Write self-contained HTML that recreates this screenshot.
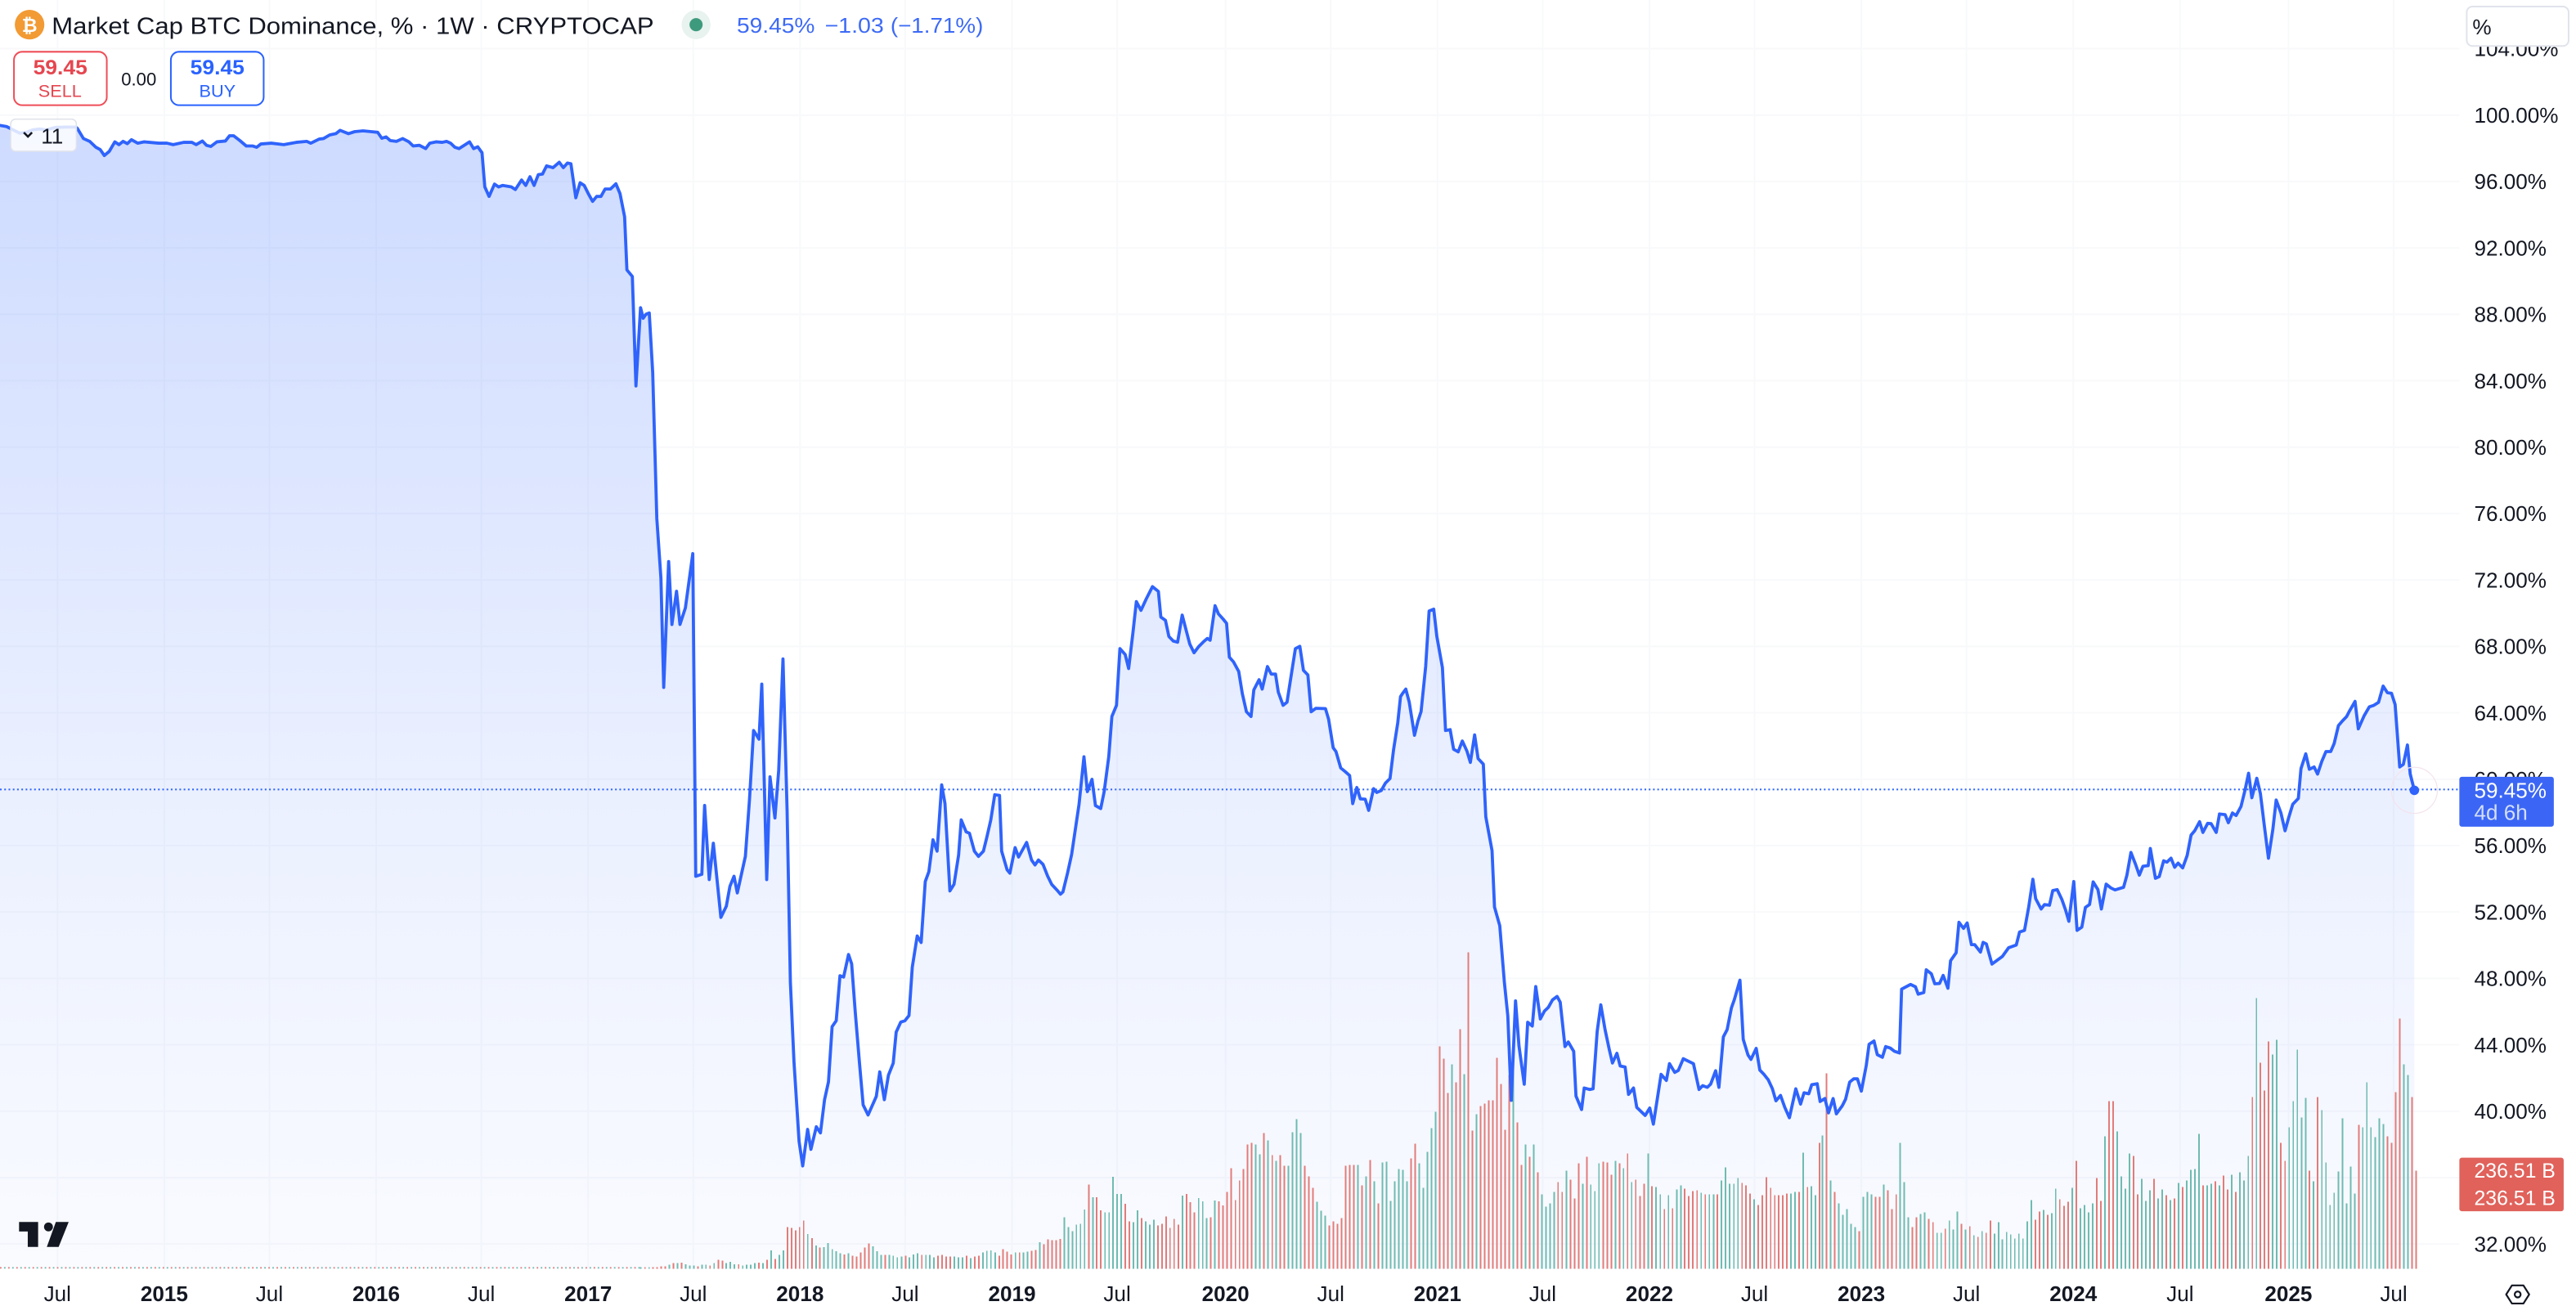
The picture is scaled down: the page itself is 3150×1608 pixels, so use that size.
<!DOCTYPE html>
<html><head><meta charset="utf-8"><style>
html,body{margin:0;padding:0;background:#fff;}
svg{display:block;}
text{font-family:"Liberation Sans",sans-serif;}
</style></head><body>
<svg width="3150" height="1608" viewBox="0 0 1568 800" preserveAspectRatio="none" xmlns="http://www.w3.org/2000/svg">
<defs>
<linearGradient id="fg" gradientUnits="userSpaceOnUse" x1="0" y1="76" x2="0" y2="772">
<stop offset="0" stop-color="#2962ff" stop-opacity="0.23"/>
<stop offset="0.55" stop-color="#2962ff" stop-opacity="0.10"/>
<stop offset="1" stop-color="#2962ff" stop-opacity="0.025"/>
</linearGradient>
</defs>
<rect x="0" y="0" width="1568" height="800" fill="#fff"/>
<g stroke="#f8f9fb" stroke-width="1">
<path d="M0 29.6H1497M0 70H1497M0 110.4H1497M0 150.8H1497M0 191.2H1497M0 231.6H1497M0 272H1497M0 312.4H1497M0 352.8H1497M0 393.2H1497M0 433.6H1497M0 474H1497M0 514.4H1497M0 554.8H1497M0 595.2H1497M0 635.6H1497M0 676H1497M0 716.4H1497M0 756.8H1497"/>
<path d="M35 0V772M100 0V772M164 0V772M229 0V772M293 0V772M358 0V772M422 0V772M487 0V772M551 0V772M616 0V772M680 0V772M746 0V772M810 0V772M875 0V772M939 0V772M1004 0V772M1068 0V772M1133 0V772M1197 0V772M1262 0V772M1327 0V772M1393 0V772M1457 0V772"/>
</g>
<path fill="url(#fg)" d="M0 76.3 L4 77 8 79 12 81 16 80.5 20 79 24 78.5 28 79 34 77.5 40 77.3 46 77.3 47 78 50.8 84.3 54.6 86 58.4 89.6 61 91 63.5 94.6 66.5 92.1 69.9 86.3 72.4 88 74.9 86 77.5 87.4 80 85 83.8 87.1 87.6 86.3 96.5 87.1 101.6 87.1 105.4 88 111.8 86.6 116.8 86.6 119.4 88 123.2 85.8 125.7 88.4 128.3 89.1 132 86.3 137.2 85.8 139.7 82.6 142.2 82.6 146 85.5 149.9 88.8 153.7 88.8 156.2 89.6 158.8 87.6 165.1 87.1 172.7 88 180.3 86.6 186.7 86 189.2 87.1 194.3 84.6 196.9 84.3 200.7 82.1 204.5 81.3 207 79.3 212.1 81.3 215.9 80.1 221 79.6 226 80.1 229.9 80.5 232.4 84.1 235 83.3 237.5 85.5 241.3 86 245.1 84.3 248.9 86.3 251.5 88.8 255.3 88.4 259.1 90.4 261.6 87.1 265.4 86.3 269.2 86.6 271.8 86 274.3 87.1 276.9 89.6 279.4 90.4 283.2 88 285.8 86.3 288.3 90.4 290.8 89.3 293.4 92.9 295.1 113.7 297.7 119.5 301 112 303.5 113.7 306 112.8 311.2 113.7 313.7 115.3 317.5 109.5 320 112.8 322.6 107.5 325.1 112.8 327.7 106.2 330.2 105.9 332.7 100.9 336.6 102 340.4 98.7 342.9 102 345.4 99.2 347.5 99.6 350.5 120.3 353.1 111.2 355.6 112.8 358.1 117.8 360.7 122.5 363.2 119.5 365.8 119.5 368.3 115 371.6 115 374.9 111.8 377.4 117.8 380.2 131.9 381.6 164.2 384.9 168.2 387.1 234.8 389.9 187.2 391.5 193.6 393.2 191.2 395.2 190.4 397.3 226.7 399.8 315.4 402.3 351.7 404 418.2 407 341.6 409 379.9 411.8 359.7 413.9 379.9 417.2 369.8 421.7 336.8 423.5 533.1 427.2 531.9 428.9 490 431.7 535.1 434.2 513 438.8 558.1 442.1 551.3 444.3 539.2 446.8 533.1 448.8 543.2 453.7 521 456.2 486.7 458.7 444.4 462 449.7 463.7 416.2 466.7 535.1 468.7 472.6 471.7 497.6 474 468.6 476.6 400.9 479.1 492.8 481.1 597.6 483.3 646 486.4 694.4 488.6 709.3 491.6 687.1 493.6 699.2 496.9 685.5 499.4 689.2 501.9 669 504.3 658.1 506.5 624.6 509 621 511.3 593.6 513.5 594.4 516.5 580.7 518.4 586.4 520.6 615.8 523.1 646 525.4 672.2 528.4 678.3 533.4 667 535.5 652.1 538.3 669 540.8 654.1 543.7 646.8 545.5 627.9 548.3 621.8 550.8 621 553.3 617.8 555.3 588.4 558.3 569.4 560.7 573.4 563.2 536.3 565.4 530.3 567.9 510.9 570.4 517.8 573.2 477.5 575.2 488.8 578.2 542 580.7 538 583.5 520.2 585.1 498.8 588.1 506.1 590.1 506.9 593.1 517.8 595.6 521 598.6 517.8 600.6 509.7 603.1 498.8 605.5 483.5 608.4 483.9 609.7 517.8 613 529.1 614.7 531.2 617.9 515.7 620 521.4 624.9 512.5 627.9 523.2 630 526.2 632.1 523.2 634.9 525.9 637.7 533 640.2 538.1 643.4 541.5 645.5 544 647 542.6 649.8 531.2 652.3 519.8 656.8 489.4 659.8 460.4 661.9 481.6 664.7 474.1 666.8 490.1 670 491.9 672.1 481.6 674.9 460.4 676.8 435.9 679.6 429.1 681.7 394.6 684.9 398.2 687 406.7 689.6 385 691.7 366 694.5 371.3 697.7 364.4 701.5 356.9 705.1 359.8 706.6 375.4 709.4 377.4 711.5 387.2 714.2 390 716.8 390.7 719.6 374.2 722.1 383.8 724.2 391.8 726.8 397.1 729.6 393.4 732.8 390.2 734.9 388.4 736.6 389.5 739.6 368.5 741.7 373.5 744.4 376.5 746.6 379.2 748.3 399.8 750.8 402.6 754 408.5 756.2 422 758.7 433 761.5 435.9 763.2 419.7 766.4 413.5 768.3 419.2 771.5 405.5 773.8 410.1 776.4 410.1 778.1 421.1 781 429.1 783.4 427.2 786.6 406.7 788.5 394.6 791.2 393.2 793.4 407.8 796.1 410.6 798.1 433 801 430.9 806.8 431.1 808.7 437.5 811.5 454.9 813.2 457.2 816.1 467.2 818.9 469.5 821.5 471.8 823.4 488.9 825.9 479.1 828 486 831 486.2 833.1 493 836.1 479.8 838 482.1 840.8 480.9 843.3 476.4 846.1 473.6 848.3 455.8 850.8 439.8 852.5 423.8 854 421.5 855.7 419.2 857.8 427.2 861 447.3 863.1 438.7 865 432.9 867.8 405.5 869.9 371.7 872.7 370.6 874.6 387.2 878 406.2 879.9 444.4 882.7 443.9 884.8 455.8 887.6 457.4 890.1 450.8 892.9 456.9 895 463.8 897.6 447.1 899.7 461.5 902.9 464.9 904.4 496.9 908.2 517.5 909.7 551.8 912.9 563.2 915.7 597.5 917.8 618 919.9 669.4 922.5 608.9 924.6 636.3 927.8 659.6 929.9 621.9 932.7 624.2 934.8 600.2 937.6 619.9 940.1 615.1 942.5 612.8 945 608.3 947.8 606.2 949.7 609.7 952.6 636.7 954.6 633.9 957.9 639.6 959.3 666.8 962.7 675 964.3 661.9 967.7 662.8 969.7 662.4 972.2 627.4 974.4 611.3 977 626.4 979.5 638.2 981.5 646.7 984.2 640.8 986.2 648.5 989.2 649.1 991.3 665.8 994.3 661.9 996.3 673.7 1001.4 678.6 1004.2 674.1 1006.4 683.9 1008.9 667.8 1011.1 653.6 1014.3 657.3 1016.2 647.1 1019.4 652.4 1021.6 651.2 1024.6 644.1 1030.8 647.1 1034.2 662.8 1036.4 660.5 1039.2 661.5 1041.3 659.5 1044.3 651.4 1046.3 661.5 1049 630.8 1051.3 626.4 1053.9 613.2 1055.7 608.1 1059.1 596.3 1061.1 632.3 1064 641.8 1065.8 644.5 1069 637.8 1071.2 651 1073.7 653.6 1076.3 656.9 1078.8 662.2 1081 669.7 1083.8 666.4 1086.4 673.7 1089.2 680 1093.1 662.4 1096 671.7 1098.1 664.8 1101 665.4 1102.8 659.9 1106.1 659.3 1107.9 670.1 1110.8 668.3 1113 677 1115.8 668.3 1117.8 677.6 1121.4 672.7 1123.4 668.7 1125.9 658.3 1128.4 656.3 1130.6 656.3 1133 663.8 1136 648.1 1137.7 635.3 1140.7 633.3 1142.7 641.6 1145.8 643.2 1147.8 636.7 1150.6 637.6 1153.2 639.6 1156.2 640.6 1157.5 601.8 1162.9 598.9 1165.9 600.3 1167.6 604.8 1171 603.8 1172.5 590 1175.6 592.4 1177.7 598.5 1180.6 598.3 1182.8 593.4 1185.7 601.2 1187.3 584.5 1190.7 579.6 1192.4 561.1 1195.2 564.8 1197.4 561.5 1200 574.7 1202 574.7 1205.5 579.2 1207.1 573.3 1209.1 574.3 1212.5 586.5 1218.9 581.8 1222.6 576.6 1227.3 574.9 1229.3 567 1232.3 566 1234.9 551.6 1237.4 534.9 1239.1 546.7 1242.4 553 1244.5 550.3 1247.5 550.7 1249.5 541.8 1252.2 541.2 1255.1 547.3 1257.3 553.6 1259.3 560.5 1262.3 536.3 1264.3 566 1267.2 564 1269.4 552 1271.9 550.3 1274.1 536.5 1277 541.2 1279.1 553 1282 537.9 1284.9 540.2 1287.4 541.4 1292.6 539.8 1294.6 532.6 1297.1 518.6 1300 526.1 1302.2 532.4 1304.4 527 1307.6 526.6 1308.9 516.2 1312 534.3 1314.3 533.3 1317 523.7 1319 524.5 1321.5 522.1 1323.7 527.6 1325.8 525.1 1328.6 528 1331.3 520.5 1333.7 508 1335.9 505.4 1338.9 499.9 1340.9 506.4 1343.8 500.9 1345.9 501.1 1349 506.4 1351 495.2 1354.4 495.6 1356.4 500.5 1358.9 494.6 1361.1 496.1 1364.1 490.6 1366.5 480.8 1368.7 470.4 1370.7 485.3 1373.7 473.5 1375.9 482.8 1378.3 502.4 1380.8 522.1 1383.5 504.4 1385.5 486.7 1388.4 494.6 1390.9 505.4 1393.1 497.5 1395.6 489.3 1399 485.7 1400.6 467.6 1403.5 458.6 1405.7 468 1408.6 466.6 1410.7 470.9 1413.3 463.1 1415.8 457.2 1418.7 457.2 1420.8 452.3 1423.4 441.4 1425.9 438.5 1428.4 435.9 1430.1 432.6 1433.5 426.7 1435.5 443.4 1439 435.5 1442.2 430 1444.7 429.2 1447.8 427.3 1450.6 417.4 1453.2 421.4 1455.7 421.8 1457.9 428.6 1460.7 466.6 1462.9 465 1465.4 453.2 1467.1 470.9 1469.6 480.8 L1469.6 772 L0 772 Z"/>
<!-- zero-volume baseline dots -->
<line x1="0" y1="771.3" x2="390" y2="771.3" stroke="#e27c7a" stroke-width="0.9" stroke-dasharray="0.9 4.05"/>
<line x1="2.47" y1="771.3" x2="390" y2="771.3" stroke="#6fbbb1" stroke-width="0.9" stroke-dasharray="0.9 4.05"/>
<!-- volume bars -->
<g stroke-width="0.95" fill="none" shape-rendering="crispEdges">
<path stroke="#e27c7a" d="M392.6 772V771M397.5 772V771M400 772V771M402.5 772V770.5M405 772V770.5M409.9 772V768.5M414.9 772V768.2M424.8 772V770.5M432.2 772V770M437.2 772V766.5M439.7 772V767M449.6 772V769.2M462 772V768.2M466.9 772V766.5M471.9 772V766M479.3 772V746.6M481.8 772V747.1M484.3 772V748.6M486.7 772V746.6M489.2 772V742.6M494.2 772V753.2M499.1 772V759M514 772V763.2M519 772V764M521.4 772V764.5M523.9 772V762M526.4 772V759M528.9 772V756.5M538.8 772V763.5M551.2 772V764M561.1 772V763.5M571 772V764M573.5 772V763.5M575.9 772V764.5M578.4 772V764.5M588.3 772V764M593.3 772V764.5M595.8 772V764M608.2 772V764M610.6 772V760M613.1 772V761.5M615.6 772V763.2M620.6 772V762M628 772V761M630.5 772V760.5M635.4 772V757M637.9 772V754.1M640.4 772V754.6M642.9 772V754.6M645.3 772V753.7M662.7 772V720.7M667.6 772V728.3M670.1 772V736.3M685 772V732.3M687.5 772V743.1M694.9 772V741.1M704.8 772V745.6M707.3 772V744.6M709.8 772V740.1M712.2 772V747.1M714.7 772V741.6M717.2 772V745.1M722.2 772V726.4M724.6 772V731.3M727.1 772V737.6M737 772V740.6M742 772V730.8M744.5 772V733.3M747 772V725M749.5 772V710.6M752 772V730M754.5 772V718.1M756.9 772V711.3M759.4 772V696.3M761.9 772V695.3M769.4 772V689.4M774.4 772V702.8M779.3 772V702.8M781.8 772V709.3M794.3 772V709.3M796.7 772V715.7M799.2 772V722.7M809.2 772V745.6M811.7 772V743.1M814.1 772V744.6M816.6 772V741.1M819.1 772V709.3M821.6 772V708.8M824.1 772V708.8M829.1 772V721.2M834 772V705.8M839 772V732.2M858.9 772V704.8M861.4 772V695.8M876.3 772V636.6M878.8 772V644.1M881.3 772V665M886.3 772V658.5M888.8 772V626.2M893.7 772V579.4M896.2 772V687.9M901.2 772V672.9M903.7 772V671.4M906.2 772V669.5M908.7 772V669.5M911.1 772V643.6M913.6 772V659.5M916.1 772V687.4M918.6 772V654M923.6 772V682.9M926.1 772V708.8M931 772V703.8M936 772V713.2M948.4 772V719.2M950.9 772V725.2M955.9 772V717.7M958.4 772V729.2M960.9 772V707.8M965.9 772V703.8M975.8 772V706.8M978.3 772V707.3M980.8 772V714.7M985.8 772V707.8M990.7 772V701.8M995.7 772V717.7M998.2 772V727.7M1000.7 772V720.2M1005.6 772V721.7M1013.1 772V735.6M1018.1 772V735.1M1025.5 772V723.2M1028 772V727.7M1030.5 772V724.7M1033 772V724.2M1038 772V726.7M1045.4 772V726.7M1060.4 772V719.7M1062.8 772V721.2M1065.3 772V726.2M1070.3 772V733.2M1072.8 772V727.2M1075.3 772V716.2M1077.8 772V722.7M1080.3 772V727.2M1082.7 772V727.2M1085.2 772V727.2M1087.7 772V726.2M1095.2 772V725.2M1100.2 772V722.2M1107.6 772V695.3"/>
<path stroke="#6fbbb1" d="M390.1 772V771M395.1 772V771M407.4 772V769.5M412.4 772V768.5M417.4 772V769.2M419.8 772V770M422.3 772V770M427.3 772V769.5M429.7 772V769.5M434.7 772V768.5M442.1 772V768.5M444.6 772V767.7M447.1 772V769.2M452.1 772V770M454.5 772V769.5M457 772V769.5M459.5 772V768.5M464.4 772V768.5M469.4 772V760.7M474.4 772V763.5M476.8 772V760.7M491.7 772V750.7M496.7 772V757.7M501.6 772V758.7M504.1 772V756.2M506.6 772V760M509 772V761.2M511.5 772V762.5M516.5 772V762.5M531.3 772V758.2M533.8 772V761.2M536.3 772V763.5M541.3 772V763.5M543.7 772V764M546.2 772V765M548.7 772V764.5M553.6 772V765M556.1 772V763.2M558.6 772V762.5M563.6 772V763.5M566 772V763.5M568.5 772V765M580.9 772V764.5M583.4 772V765M585.9 772V765M590.8 772V765.5M598.3 772V762M600.7 772V761M603.2 772V760.7M605.7 772V762M618.1 772V762M623 772V762M625.5 772V761.5M632.9 772V755.7M647.8 772V740.6M650.3 772V746.6M652.8 772V749.1M655.2 772V745.1M657.7 772V744.6M660.2 772V735.8M665.2 772V728.3M672.6 772V737.6M675.1 772V737.6M677.5 772V715.9M680 772V726.4M682.5 772V726.4M689.9 772V743.6M692.4 772V736.3M697.4 772V743.1M699.9 772V745.1M702.3 772V742.1M719.7 772V727.3M729.6 772V728.8M732.1 772V730.8M734.5 772V741.1M739.5 772V730.3M764.4 772V696.3M766.9 772V702.3M771.9 772V693.8M776.8 772V706.3M784.3 772V709.3M786.8 772V688.9M789.3 772V680.9M791.8 772V689.4M801.7 772V731.2M804.2 772V736.6M806.7 772V739.6M826.6 772V708.8M831.6 772V715.7M836.5 772V718.7M841.5 772V707.3M844 772V706.8M846.5 772V730.7M849 772V718.7M851.5 772V711.3M853.9 772V711.8M856.4 772V718.7M863.9 772V707.8M866.4 772V722.7M868.9 772V700.8M871.4 772V686.4M873.8 772V676.4M883.8 772V647.6M891.2 772V653.5M898.7 772V677.9M921.1 772V630.1M928.6 772V696.3M933.5 772V696.3M938.5 772V726.7M941 772V734.2M943.5 772V732.2M946 772V725.2M953.4 772V712.3M963.4 772V720.2M968.3 772V720.7M970.8 772V724.7M973.3 772V707.8M983.3 772V706.3M988.2 772V710.8M993.2 772V719.2M1003.2 772V701.8M1008.1 772V722.2M1010.6 772V726.7M1015.6 772V727.2M1020.6 772V723.7M1023.1 772V721.2M1035.5 772V725.7M1040.5 772V726.7M1043 772V726.7M1047.9 772V718.2M1050.4 772V710.3M1052.9 772V720.2M1055.4 772V720.2M1057.9 772V716.7M1067.8 772V729.7M1090.2 772V726.2M1092.7 772V725.2M1097.7 772V701.3M1102.6 772V721.7M1105.1 772V727.2"/>
<g transform="translate(-0.8,0)">
<path stroke="#e27c7a" d="M1112.6 772V653M1117.6 772V725.2M1132.5 772V749.1M1142.5 772V728.2M1145 772V728.2M1150 772V724.2M1152.5 772V735.6M1155 772V726.7M1164.9 772V746.6M1167.4 772V740.6M1174.9 772V741.6M1177.4 772V743.6M1184.9 772V747.6M1194.8 772V744.6M1199.8 772V746.1M1204.8 772V752.6M1209.8 772V750.1M1212.3 772V742.6M1239.7 772V742.1M1242.2 772V737.1M1247.2 772V739.1M1254.6 772V729.7M1257.1 772V733.7M1259.6 772V731.2M1264.6 772V706.3M1277.1 772V716.7M1279.6 772V730.7M1284.5 772V670M1287 772V670M1299.5 772V703.3M1302 772V726.7M1312 772V717.2M1319.4 772V727.2M1324.4 772V729.2M1329.4 772V722.2M1341.9 772V721.2M1349.3 772V718.7M1354.3 772V715.2M1356.8 772V723.7M1361.8 772V725.2M1371.8 772V667.5M1376.7 772V646.6M1379.2 772V663.5M1381.7 772V633.6M1389.2 772V695.3M1391.7 772V706.3M1406.6 772V712.3M1411.6 772V667.5M1436.6 772V684.4M1454 772V691.4M1456.5 772V695.3M1459 772V664.5M1461.5 772V619.7M1468.9 772V667.5M1471.4 772V712.3"/>
<path stroke="#6fbbb1" d="M1110.1 772V690.9M1115.1 772V718.2M1120.1 772V732.2M1122.6 772V739.1M1125.1 772V735.6M1127.5 772V744.6M1130 772V746.6M1135 772V728.2M1137.5 772V725.2M1140 772V726.7M1147.5 772V720.7M1157.4 772V695.3M1159.9 772V719.2M1162.4 772V740.6M1169.9 772V738.6M1172.4 772V737.6M1179.9 772V750.1M1182.4 772V750.1M1187.4 772V742.6M1189.8 772V748.1M1192.3 772V737.1M1197.3 772V748.1M1202.3 772V751.6M1207.3 772V749.1M1214.8 772V750.6M1217.3 772V743.6M1219.7 772V754.1M1222.2 772V749.6M1224.7 772V751.1M1227.2 772V753.6M1229.7 772V750.6M1232.2 772V753.6M1234.7 772V743.1M1237.2 772V730.2M1244.7 772V736.1M1249.7 772V738.1M1252.1 772V723.2M1262.1 772V722.7M1267.1 772V735.1M1269.6 772V733.2M1272.1 772V737.6M1274.6 772V732.2M1282 772V691.4M1289.5 772V688.4M1292 772V715.7M1294.5 772V723.2M1297 772V701.8M1304.5 772V717.2M1307 772V730.7M1309.5 772V724.2M1314.4 772V729.2M1316.9 772V723.7M1321.9 772V730.2M1326.9 772V719.7M1331.9 772V718.2M1334.4 772V711.8M1336.9 772V711.3M1339.4 772V689.9M1344.3 772V721.2M1346.8 772V720.2M1351.8 772V721.2M1359.3 772V714.7M1364.3 772V713.2M1366.8 772V718.2M1369.3 772V703.3M1374.3 772V607.2M1384.2 772V641.6M1386.7 772V632.6M1394.2 772V685.9M1396.7 772V670M1399.2 772V638.6M1401.7 772V679.9M1404.2 772V668M1409.1 772V718.7M1414.1 772V675.4M1416.6 772V707.3M1419.1 772V733.2M1421.6 772V725.7M1424.1 772V712.8M1426.6 772V680.4M1429.1 772V732.2M1431.6 772V709.8M1434.1 772V726.2M1439 772V685.9M1441.5 772V658.5M1444 772V685.9M1446.5 772V691.9M1449 772V680.4M1451.5 772V683.9M1464 772V647.6M1466.5 772V654"/>
</g>
</g>
<!-- price line -->
<line x1="0" y1="480.3" x2="1497" y2="480.3" stroke="#2962ff" stroke-width="1" stroke-dasharray="1 1.6"/>
<polyline fill="none" stroke="#2f63fb" stroke-width="1.9" stroke-linejoin="round" stroke-linecap="round" points="0,76.3 4,77 8,79 12,81 16,80.5 20,79 24,78.5 28,79 34,77.5 40,77.3 46,77.3 47,78 50.8,84.3 54.6,86 58.4,89.6 61,91 63.5,94.6 66.5,92.1 69.9,86.3 72.4,88 74.9,86 77.5,87.4 80,85 83.8,87.1 87.6,86.3 96.5,87.1 101.6,87.1 105.4,88 111.8,86.6 116.8,86.6 119.4,88 123.2,85.8 125.7,88.4 128.3,89.1 132,86.3 137.2,85.8 139.7,82.6 142.2,82.6 146,85.5 149.9,88.8 153.7,88.8 156.2,89.6 158.8,87.6 165.1,87.1 172.7,88 180.3,86.6 186.7,86 189.2,87.1 194.3,84.6 196.9,84.3 200.7,82.1 204.5,81.3 207,79.3 212.1,81.3 215.9,80.1 221,79.6 226,80.1 229.9,80.5 232.4,84.1 235,83.3 237.5,85.5 241.3,86 245.1,84.3 248.9,86.3 251.5,88.8 255.3,88.4 259.1,90.4 261.6,87.1 265.4,86.3 269.2,86.6 271.8,86 274.3,87.1 276.9,89.6 279.4,90.4 283.2,88 285.8,86.3 288.3,90.4 290.8,89.3 293.4,92.9 295.1,113.7 297.7,119.5 301,112 303.5,113.7 306,112.8 311.2,113.7 313.7,115.3 317.5,109.5 320,112.8 322.6,107.5 325.1,112.8 327.7,106.2 330.2,105.9 332.7,100.9 336.6,102 340.4,98.7 342.9,102 345.4,99.2 347.5,99.6 350.5,120.3 353.1,111.2 355.6,112.8 358.1,117.8 360.7,122.5 363.2,119.5 365.8,119.5 368.3,115 371.6,115 374.9,111.8 377.4,117.8 380.2,131.9 381.6,164.2 384.9,168.2 387.1,234.8 389.9,187.2 391.5,193.6 393.2,191.2 395.2,190.4 397.3,226.7 399.8,315.4 402.3,351.7 404,418.2 407,341.6 409,379.9 411.8,359.7 413.9,379.9 417.2,369.8 421.7,336.8 423.5,533.1 427.2,531.9 428.9,490 431.7,535.1 434.2,513 438.8,558.1 442.1,551.3 444.3,539.2 446.8,533.1 448.8,543.2 453.7,521 456.2,486.7 458.7,444.4 462,449.7 463.7,416.2 466.7,535.1 468.7,472.6 471.7,497.6 474,468.6 476.6,400.9 479.1,492.8 481.1,597.6 483.3,646 486.4,694.4 488.6,709.3 491.6,687.1 493.6,699.2 496.9,685.5 499.4,689.2 501.9,669 504.3,658.1 506.5,624.6 509,621 511.3,593.6 513.5,594.4 516.5,580.7 518.4,586.4 520.6,615.8 523.1,646 525.4,672.2 528.4,678.3 533.4,667 535.5,652.1 538.3,669 540.8,654.1 543.7,646.8 545.5,627.9 548.3,621.8 550.8,621 553.3,617.8 555.3,588.4 558.3,569.4 560.7,573.4 563.2,536.3 565.4,530.3 567.9,510.9 570.4,517.8 573.2,477.5 575.2,488.8 578.2,542 580.7,538 583.5,520.2 585.1,498.8 588.1,506.1 590.1,506.9 593.1,517.8 595.6,521 598.6,517.8 600.6,509.7 603.1,498.8 605.5,483.5 608.4,483.9 609.7,517.8 613,529.1 614.7,531.2 617.9,515.7 620,521.4 624.9,512.5 627.9,523.2 630,526.2 632.1,523.2 634.9,525.9 637.7,533 640.2,538.1 643.4,541.5 645.5,544 647,542.6 649.8,531.2 652.3,519.8 656.8,489.4 659.8,460.4 661.9,481.6 664.7,474.1 666.8,490.1 670,491.9 672.1,481.6 674.9,460.4 676.8,435.9 679.6,429.1 681.7,394.6 684.9,398.2 687,406.7 689.6,385 691.7,366 694.5,371.3 697.7,364.4 701.5,356.9 705.1,359.8 706.6,375.4 709.4,377.4 711.5,387.2 714.2,390 716.8,390.7 719.6,374.2 722.1,383.8 724.2,391.8 726.8,397.1 729.6,393.4 732.8,390.2 734.9,388.4 736.6,389.5 739.6,368.5 741.7,373.5 744.4,376.5 746.6,379.2 748.3,399.8 750.8,402.6 754,408.5 756.2,422 758.7,433 761.5,435.9 763.2,419.7 766.4,413.5 768.3,419.2 771.5,405.5 773.8,410.1 776.4,410.1 778.1,421.1 781,429.1 783.4,427.2 786.6,406.7 788.5,394.6 791.2,393.2 793.4,407.8 796.1,410.6 798.1,433 801,430.9 806.8,431.1 808.7,437.5 811.5,454.9 813.2,457.2 816.1,467.2 818.9,469.5 821.5,471.8 823.4,488.9 825.9,479.1 828,486 831,486.2 833.1,493 836.1,479.8 838,482.1 840.8,480.9 843.3,476.4 846.1,473.6 848.3,455.8 850.8,439.8 852.5,423.8 854,421.5 855.7,419.2 857.8,427.2 861,447.3 863.1,438.7 865,432.9 867.8,405.5 869.9,371.7 872.7,370.6 874.6,387.2 878,406.2 879.9,444.4 882.7,443.9 884.8,455.8 887.6,457.4 890.1,450.8 892.9,456.9 895,463.8 897.6,447.1 899.7,461.5 902.9,464.9 904.4,496.9 908.2,517.5 909.7,551.8 912.9,563.2 915.7,597.5 917.8,618 919.9,669.4 922.5,608.9 924.6,636.3 927.8,659.6 929.9,621.9 932.7,624.2 934.8,600.2 937.6,619.9 940.1,615.1 942.5,612.8 945,608.3 947.8,606.2 949.7,609.7 952.6,636.7 954.6,633.9 957.9,639.6 959.3,666.8 962.7,675 964.3,661.9 967.7,662.8 969.7,662.4 972.2,627.4 974.4,611.3 977,626.4 979.5,638.2 981.5,646.7 984.2,640.8 986.2,648.5 989.2,649.1 991.3,665.8 994.3,661.9 996.3,673.7 1001.4,678.6 1004.2,674.1 1006.4,683.9 1008.9,667.8 1011.1,653.6 1014.3,657.3 1016.2,647.1 1019.4,652.4 1021.6,651.2 1024.6,644.1 1030.8,647.1 1034.2,662.8 1036.4,660.5 1039.2,661.5 1041.3,659.5 1044.3,651.4 1046.3,661.5 1049,630.8 1051.3,626.4 1053.9,613.2 1055.7,608.1 1059.1,596.3 1061.1,632.3 1064,641.8 1065.8,644.5 1069,637.8 1071.2,651 1073.7,653.6 1076.3,656.9 1078.8,662.2 1081,669.7 1083.8,666.4 1086.4,673.7 1089.2,680 1093.1,662.4 1096,671.7 1098.1,664.8 1101,665.4 1102.8,659.9 1106.1,659.3 1107.9,670.1 1110.8,668.3 1113,677 1115.8,668.3 1117.8,677.6 1121.4,672.7 1123.4,668.7 1125.9,658.3 1128.4,656.3 1130.6,656.3 1133,663.8 1136,648.1 1137.7,635.3 1140.7,633.3 1142.7,641.6 1145.8,643.2 1147.8,636.7 1150.6,637.6 1153.2,639.6 1156.2,640.6 1157.5,601.8 1162.9,598.9 1165.9,600.3 1167.6,604.8 1171,603.8 1172.5,590 1175.6,592.4 1177.7,598.5 1180.6,598.3 1182.8,593.4 1185.7,601.2 1187.3,584.5 1190.7,579.6 1192.4,561.1 1195.2,564.8 1197.4,561.5 1200,574.7 1202,574.7 1205.5,579.2 1207.1,573.3 1209.1,574.3 1212.5,586.5 1218.9,581.8 1222.6,576.6 1227.3,574.9 1229.3,567 1232.3,566 1234.9,551.6 1237.4,534.9 1239.1,546.7 1242.4,553 1244.5,550.3 1247.5,550.7 1249.5,541.8 1252.2,541.2 1255.1,547.3 1257.3,553.6 1259.3,560.5 1262.3,536.3 1264.3,566 1267.2,564 1269.4,552 1271.9,550.3 1274.1,536.5 1277,541.2 1279.1,553 1282,537.9 1284.9,540.2 1287.4,541.4 1292.6,539.8 1294.6,532.6 1297.1,518.6 1300,526.1 1302.2,532.4 1304.4,527 1307.6,526.6 1308.9,516.2 1312,534.3 1314.3,533.3 1317,523.7 1319,524.5 1321.5,522.1 1323.7,527.6 1325.8,525.1 1328.6,528 1331.3,520.5 1333.7,508 1335.9,505.4 1338.9,499.9 1340.9,506.4 1343.8,500.9 1345.9,501.1 1349,506.4 1351,495.2 1354.4,495.6 1356.4,500.5 1358.9,494.6 1361.1,496.1 1364.1,490.6 1366.5,480.8 1368.7,470.4 1370.7,485.3 1373.7,473.5 1375.9,482.8 1378.3,502.4 1380.8,522.1 1383.5,504.4 1385.5,486.7 1388.4,494.6 1390.9,505.4 1393.1,497.5 1395.6,489.3 1399,485.7 1400.6,467.6 1403.5,458.6 1405.7,468 1408.6,466.6 1410.7,470.9 1413.3,463.1 1415.8,457.2 1418.7,457.2 1420.8,452.3 1423.4,441.4 1425.9,438.5 1428.4,435.9 1430.1,432.6 1433.5,426.7 1435.5,443.4 1439,435.5 1442.2,430 1444.7,429.2 1447.8,427.3 1450.6,417.4 1453.2,421.4 1455.7,421.8 1457.9,428.6 1460.7,466.6 1462.9,465 1465.4,453.2 1467.1,470.9 1469.6,480.8"/>
<circle cx="1469.6" cy="480.8" r="14" fill="none" stroke="#f3e3ec" stroke-width="0.6"/>
<circle cx="1469.6" cy="480.8" r="2.9" fill="#2f63fb"/>

<!-- x11 box -->
<rect x="6.5" y="72.5" width="40" height="19.5" rx="3" fill="#ffffff" fill-opacity="0.82" stroke="#e0e3eb" stroke-width="0.8"/>
<polyline points="14.5,80.6 17,83.1 19.5,80.6" fill="none" stroke="#131722" stroke-width="1.3"/>
<text x="25" y="87.2" font-size="13" fill="#131722">11</text>

<!-- header -->
<circle cx="18" cy="15" r="9" fill="#f29a33"/>
<text x="18" y="19.3" font-size="11.5" font-weight="bold" fill="#ffffff" text-anchor="middle">₿</text>
<text x="31.5" y="20.7" font-size="14.3" fill="#131722" textLength="366.5" lengthAdjust="spacingAndGlyphs">Market Cap BTC Dominance, % · 1W · CRYPTOCAP</text>
<circle cx="423.7" cy="15" r="8.8" fill="#e8f2ee"/>
<circle cx="423.7" cy="15" r="4" fill="#3e9a7d"/>
<text x="448.5" y="20" font-size="12.8" fill="#3d6af5" textLength="47.5" lengthAdjust="spacingAndGlyphs">59.45%</text>
<text x="502" y="20" font-size="12.8" fill="#3d6af5" textLength="36" lengthAdjust="spacingAndGlyphs">−1.03</text>
<text x="542" y="20" font-size="12.8" fill="#3d6af5" textLength="56.5" lengthAdjust="spacingAndGlyphs">(−1.71%)</text>

<rect x="8.5" y="31.5" width="56.5" height="32.5" rx="5" fill="#fff" stroke="#ef4e58" stroke-width="1"/>
<text x="36.7" y="45.3" font-size="12.5" font-weight="bold" fill="#e5464f" text-anchor="middle" textLength="33" lengthAdjust="spacingAndGlyphs">59.45</text>
<text x="36.5" y="59" font-size="10.8" fill="#e5464f" text-anchor="middle">SELL</text>
<text x="84.5" y="52" font-size="11" fill="#131722" text-anchor="middle">0.00</text>
<rect x="104" y="31.5" width="56.5" height="32.5" rx="5" fill="#fff" stroke="#2962ff" stroke-width="1"/>
<text x="132.3" y="45.3" font-size="12.5" font-weight="bold" fill="#2962ff" text-anchor="middle" textLength="33" lengthAdjust="spacingAndGlyphs">59.45</text>
<text x="132.3" y="59" font-size="10.8" fill="#2962ff" text-anchor="middle">BUY</text>

<!-- right price axis -->
<g font-size="13" fill="#131722">
<text x="1506" y="34.2">104.00%</text>
<text x="1506" y="74.6">100.00%</text>
<text x="1506" y="115">96.00%</text>
<text x="1506" y="155.4">92.00%</text>
<text x="1506" y="195.8">88.00%</text>
<text x="1506" y="236.2">84.00%</text>
<text x="1506" y="276.6">80.00%</text>
<text x="1506" y="317">76.00%</text>
<text x="1506" y="357.4">72.00%</text>
<text x="1506" y="397.8">68.00%</text>
<text x="1506" y="438.2">64.00%</text>
<text x="1506" y="478.6">60.00%</text>
<text x="1506" y="519">56.00%</text>
<text x="1506" y="559.4">52.00%</text>
<text x="1506" y="599.8">48.00%</text>
<text x="1506" y="640.2">44.00%</text>
<text x="1506" y="680.6">40.00%</text>
<text x="1506" y="721">36.00%</text>
<text x="1506" y="761.4">32.00%</text>
</g>
<rect x="1501.5" y="4" width="62" height="24" rx="3.5" fill="#fff" stroke="#e0e3eb" stroke-width="1"/>
<text x="1505" y="21" font-size="13" fill="#131722">%</text>

<rect x="1497" y="472.6" width="57.5" height="30.3" rx="1.5" fill="#3b66f5"/>
<text x="1506" y="485.3" font-size="13" fill="#ffffff">59.45%</text>
<text x="1506" y="498.8" font-size="13" fill="#d4defc">4d 6h</text>

<rect x="1497" y="704.3" width="63.5" height="32.6" rx="1.5" fill="#e0625b"/>
<text x="1506" y="716.3" font-size="12.5" fill="#ffffff" textLength="49.5" lengthAdjust="spacingAndGlyphs">236.51 B</text>
<text x="1506" y="733.1" font-size="12.5" fill="#ffffff" textLength="49.5" lengthAdjust="spacingAndGlyphs">236.51 B</text>

<!-- TV logo -->
<path d="M11.6 743.4H23.2V758.6H16.9V749.2H11.6Z" fill="#131722"/>
<circle cx="29.5" cy="746.4" r="2.7" fill="#131722"/>
<path d="M34 743.4H41.8L35.7 758.6H28.5Z" fill="#131722"/>

<!-- time axis -->
<g font-size="13" fill="#131722" text-anchor="middle">
<text x="35" y="791.5">Jul</text>
<text x="100" y="791.5" font-weight="bold">2015</text>
<text x="164" y="791.5">Jul</text>
<text x="229" y="791.5" font-weight="bold">2016</text>
<text x="293" y="791.5">Jul</text>
<text x="358" y="791.5" font-weight="bold">2017</text>
<text x="422" y="791.5">Jul</text>
<text x="487" y="791.5" font-weight="bold">2018</text>
<text x="551" y="791.5">Jul</text>
<text x="616" y="791.5" font-weight="bold">2019</text>
<text x="680" y="791.5">Jul</text>
<text x="746" y="791.5" font-weight="bold">2020</text>
<text x="810" y="791.5">Jul</text>
<text x="875" y="791.5" font-weight="bold">2021</text>
<text x="939" y="791.5">Jul</text>
<text x="1004" y="791.5" font-weight="bold">2022</text>
<text x="1068" y="791.5">Jul</text>
<text x="1133" y="791.5" font-weight="bold">2023</text>
<text x="1197" y="791.5">Jul</text>
<text x="1262" y="791.5" font-weight="bold">2024</text>
<text x="1327" y="791.5">Jul</text>
<text x="1393" y="791.5" font-weight="bold">2025</text>
<text x="1457" y="791.5">Jul</text>
</g>
<path d="M1525.5 787.5L1529 782H1536L1539.5 787.5L1536 793H1529Z" fill="none" stroke="#131722" stroke-width="1.1" stroke-linejoin="round"/>
<circle cx="1532.5" cy="787.5" r="1.8" fill="none" stroke="#131722" stroke-width="1.1"/>
</svg>
</body></html>
